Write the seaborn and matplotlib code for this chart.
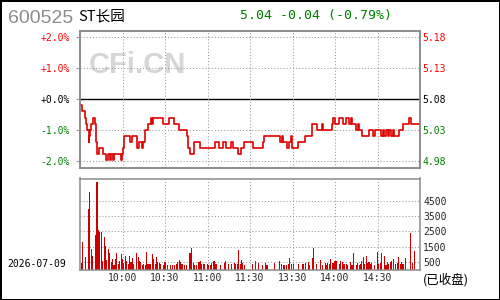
import matplotlib
matplotlib.use("Agg")
import matplotlib.pyplot as plt
import seaborn as sns
import pandas as pd

# ---------------- data ----------------
prev_close = 5.08
stock_code = "600525"
stock_name = "ST长园"
quote_text = "5.04 -0.04 (-0.79%)"
trade_date = "2026-07-09"
status_text = "(已收盘)"

# minute (trading minutes since 9:30) at which the price changes, and the new price
step_minute = [0, 1.5, 3.5, 4.5, 5, 6, 6.5, 7.3, 8, 9, 10.4, 11, 11.5, 12, 13.5, 16, 18.6, 19.8, 21, 22,
               23, 24, 28.7, 29.5, 30.3, 31, 35.5, 36.5, 40.5, 41.5, 43.5, 44.5, 46, 48, 50, 50.5, 51.5,
               58.8, 62.8, 66, 70, 75.3, 76.2, 77.4, 80.5, 84.7, 95, 98.4, 101, 103, 106.4, 107.8, 111.5,
               113.4, 115.8, 122.4, 129, 130, 141.2, 142.4, 143.5, 146.4, 147.8, 148.7, 149.6, 154, 158.8,
               163.5, 167, 170.6, 171.8, 177.6, 178.8, 180, 183, 185.4, 187.8, 190, 191, 192, 195, 196,
               197, 199, 203.8, 207, 208.5, 212.5, 213.6, 214.8, 216, 217.2, 218.4, 219.6, 220.7, 221.9,
               225.4, 227.8, 232.5, 233.6, 240]
step_price = [5.07, 5.06, 5.05, 5.04, 5.03, 5.01, 5.02, 5.03, 5.04, 5.05, 5.04, 5.03, 5.01, 4.99, 5.00, 4.99,
              4.98, 4.99, 4.98, 4.99, 4.98, 4.99, 4.98, 4.99, 5.00, 5.02, 5.01, 5.02, 5.00, 5.01, 5.00,
              5.01, 5.03, 5.04, 5.05, 5.04, 5.05, 5.04, 5.05, 5.04, 5.03, 5.02, 5.00, 4.99, 5.01, 5.00,
              5.01, 5.00, 5.01, 5.00, 5.01, 5.00, 4.99, 5.00, 5.01, 5.00, 5.01, 5.02, 5.01, 5.02, 5.01,
              5.00, 5.01, 5.02, 5.00, 5.01, 5.02, 5.04, 5.03, 5.04, 5.03, 5.04, 5.05, 5.04, 5.05, 5.04,
              5.05, 5.04, 5.05, 5.04, 5.03, 5.04, 5.03, 5.02, 5.03, 5.02, 5.03, 5.02, 5.03, 5.02, 5.03,
              5.02, 5.03, 5.02, 5.03, 5.02, 5.03, 5.04, 5.05, 5.04, 5.04]

vol_minute = [1, 2, 4, 6, 7, 8, 9, 11, 12, 13, 14, 15, 16, 17, 18, 19, 20, 21, 22, 23,
              24, 25, 26, 27, 28, 29, 30, 31, 32, 33, 34, 35, 36, 37, 38, 40, 41, 42, 43, 44,
              45, 46, 47, 48, 49, 50, 51, 52, 53, 54, 55, 56, 57, 59, 60, 62, 64, 65, 67, 68,
              69, 70, 71, 72, 74, 75, 77, 78, 79, 80, 81, 82, 84, 85, 86, 87, 88, 90, 91, 92,
              93, 94, 95, 96, 99, 102, 103, 105, 107, 109, 110, 111, 112, 113, 114, 115, 116,
              122, 124, 126, 129, 131, 132, 137, 141, 142, 144, 146, 147, 148, 149, 151, 154, 157, 158, 159, 161,
              162, 164, 165, 167, 170, 171, 173, 174, 175, 176, 177, 178, 179, 180, 181, 183, 184, 185, 186, 187,
              188, 189, 191, 192, 193, 195, 196, 197, 198, 199, 200, 201, 202, 203, 204, 205, 206, 208, 210, 211,
              212, 213, 215, 216, 217, 218, 219, 220, 221, 223, 224, 225, 226, 227, 228, 230, 233, 235, 236]
vol_value = [420, 1820, 810, 3980, 5100, 1360, 900, 2250, 5750, 2600, 2470, 2470, 570, 2140, 1550, 630, 1330, 1070, 500, 680,
             310, 680, 1070, 350, 570, 1010, 720, 420, 900, 550, 330, 880, 500, 770, 370, 1090, 810, 570, 500, 280,
             370, 280, 1160, 350, 330, 370, 1030, 720, 330, 810, 460, 420, 370, 280, 500, 280, 280, 280, 280, 370,
             500, 630, 460, 350, 280, 280, 1070, 1070, 1420, 420, 310, 310, 500, 570, 330, 370, 330, 370, 280, 280,
             420, 570, 570, 370, 280, 420, 570, 350, 370, 420, 330, 370, 1290, 350, 630, 420, 310,
             370, 550, 420, 280, 420, 280, 420, 570, 370, 310, 310, 370, 770, 370, 330, 370, 370, 370, 420, 500,
             310, 770, 1420, 370, 630, 310, 420, 310, 420, 370, 680, 420, 420, 590, 550, 370, 550, 500, 330, 370,
             370, 310, 500, 280, 1070, 280, 420, 280, 370, 550, 850, 370, 900, 420, 500, 330, 420, 310, 1160, 370,
             420, 1070, 900, 310, 500, 330, 500, 550, 680, 370, 420, 850, 370, 500, 370, 770, 2380, 420, 1200]

pct_ticks = [2, 1, 0, -1, -2]
pct_labels = ["+2.0%", "+1.0%", "+0.0%", "-1.0%", "-2.0%"]
price_labels = ["5.18", "5.13", "5.08", "5.03", "4.98"]
label_colors = ["#ff0000", "#ff0000", "#000000", "#008000", "#008000"]
vol_ticks = [500, 1500, 2500, 3500, 4500]
time_ticks = [30, 60, 90, 120, 150, 180, 210]
time_labels = ["10:00", "10:30", "11:00", "11:30", "13:30", "14:00", "14:30"]

# ---------------- style ----------------
sns.set_style("white")
plt.rcParams["font.family"] = ["DejaVu Sans Mono", "Noto Sans CJK SC"]

GRID = dict(color="#9a9a9a", linestyle=(0, (1, 2)), linewidth=0.75)
FRAME = "#8a8a8a"
MONO = 7

fig = plt.figure(figsize=(5, 3), dpi=100, facecolor="white", edgecolor="black", linewidth=2)

# ---------------- price panel ----------------
ax = fig.add_axes([80 / 500, 1 - 168.3 / 300, 340 / 500, 137 / 300])
price_df = pd.DataFrame({"minute": step_minute, "price": step_price})
price_df["pct"] = (price_df["price"] / prev_close - 1) * 100

ax.text(0.17, 0.755, "CFi.CN", transform=ax.transAxes, ha="center", va="center",
        fontsize=21, fontweight="bold", color="#d6d6d6", family="Liberation Sans", zorder=0)

for t in pct_ticks:
    if t == 0:
        ax.axhline(t, color="black", linewidth=1.0, zorder=1)
    else:
        ax.axhline(t, zorder=1, **GRID)
for t in time_ticks:
    ax.axvline(t, zorder=1, **GRID)

sns.lineplot(data=price_df, x="minute", y="pct", drawstyle="steps-post",
             color="#e00000", linewidth=1.2, ax=ax, zorder=3)

ax.set_xlim(0, 240)
ax.set_ylim(-2.226, 2.19)
ax.set_xticks([])
ax.set_yticks(pct_ticks)
ax.set_yticklabels(pct_labels)
ax.tick_params(axis="y", left=True, length=3, width=0.8, color="#9a9a9a", pad=4.5, labelsize=MONO)
for lab, c in zip(ax.get_yticklabels(), label_colors):
    lab.set_color(c)
ax.set_xlabel("")
ax.set_ylabel("")
for s in ax.spines.values():
    s.set_color(FRAME)
    s.set_linewidth(1.1)

axr = ax.twinx()
axr.set_ylim(ax.get_ylim())
axr.set_yticks(pct_ticks)
axr.set_yticklabels(price_labels)
axr.tick_params(axis="y", right=True, length=0, pad=1.5, labelsize=MONO)
for lab, c in zip(axr.get_yticklabels(), label_colors):
    lab.set_color(c)
for s in axr.spines.values():
    s.set_color(FRAME)
    s.set_linewidth(1.1)

# ---------------- volume panel ----------------
axv = fig.add_axes([80 / 500, 1 - 269.5 / 300, 340 / 500, 91 / 300])
vol_df = pd.DataFrame({"minute": vol_minute, "volume": vol_value})
for t in vol_ticks:
    axv.axhline(t, zorder=0, **GRID)
for t in time_ticks:
    axv.axvline(t, zorder=0, **GRID)
sns.barplot(data=vol_df, x="minute", y="volume", native_scale=True, width=0.75,
            color="#cc0000", saturation=1, linewidth=0, antialiased=False, ax=axv, zorder=2)
axv.set_xlim(0, 240)
axv.set_ylim(0, 5967)
axv.set_xticks(time_ticks)
axv.set_xticklabels(time_labels)
axv.yaxis.tick_right()
axv.set_yticks(vol_ticks)
axv.set_yticklabels([str(v) for v in vol_ticks])
axv.tick_params(axis="both", length=0, labelsize=MONO)
axv.tick_params(axis="x", pad=2.5)
axv.tick_params(axis="y", pad=2.4)
axv.set_xlabel("")
axv.set_ylabel("")
for s in axv.spines.values():
    s.set_color(FRAME)
    s.set_linewidth(1.1)

# ---------------- header / footer texts ----------------
fig.text(8 / 500, 1 - 23.3 / 300, stock_code, ha="left", va="baseline", fontsize=14,
         color="#8c8c8c", family="Liberation Sans")
fig.text(78 / 500, 1 - 20.5 / 300, stock_name, ha="left", va="baseline", fontsize=10.5,
         color="black", family=["Noto Sans CJK SC", "DejaVu Sans"])
fig.text(239.5 / 500, 1 - 19.5 / 300, quote_text, ha="left", va="baseline", fontsize=9.5,
         color="#008000", family="DejaVu Sans Mono")
fig.text(7 / 500, 1 - 267 / 300, trade_date, ha="left", va="baseline", fontsize=MONO,
         color="black", family="DejaVu Sans Mono")
fig.text(423 / 500, 1 - 280 / 300, status_text, ha="left", va="center", fontsize=9,
         color="black", family=["Noto Sans CJK SC", "DejaVu Sans"])

fig.savefig("out.png", dpi=100, facecolor="white", edgecolor="black")
